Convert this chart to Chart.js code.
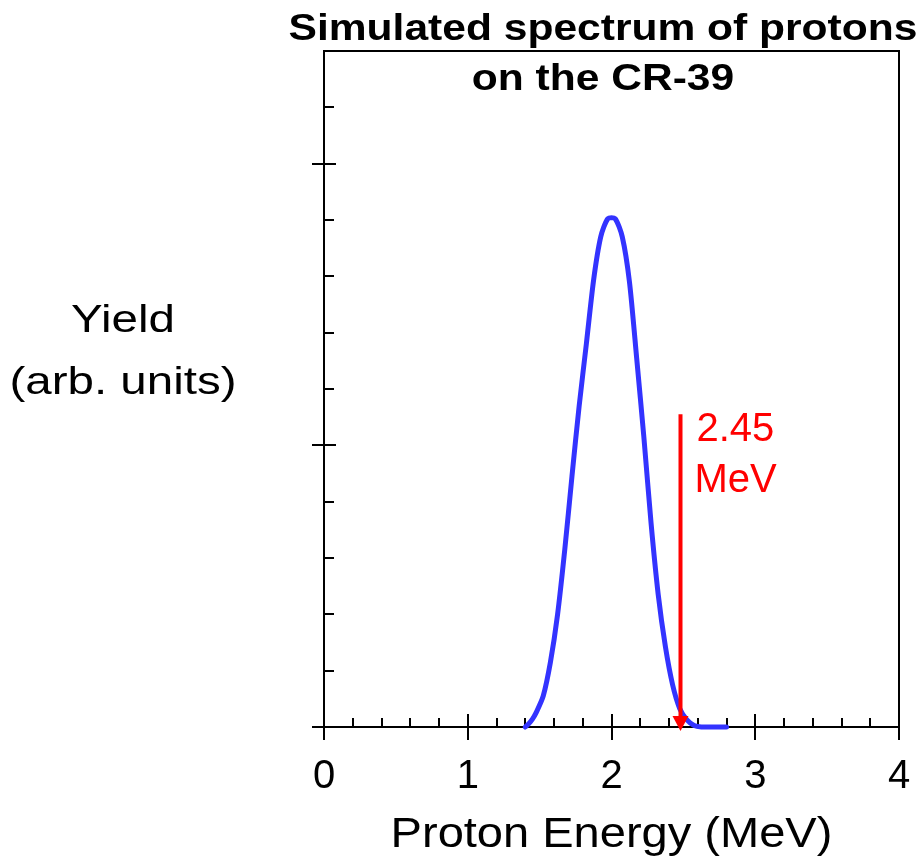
<!DOCTYPE html>
<html>
<head>
<meta charset="utf-8">
<script src="https://cdn.jsdelivr.net/npm/chart.js@4.4.1/dist/chart.umd.min.js"></script>
<style>
  html, body { margin: 0; padding: 0; background: #fff; }
  #wrap { width: 922px; height: 864px; position: relative; }
</style>
</head>
<body>
<div id="wrap"><canvas id="spectrumChart"></canvas></div>
<script>
// proton energy (MeV) and simulated yield (arb. units)
const energies = [1.400, 1.425, 1.450, 1.475, 1.525, 1.575, 1.625, 1.675, 1.725, 1.775, 1.825,
                  1.875, 1.925, 1.975, 2.025, 2.075, 2.125, 2.175, 2.225, 2.275, 2.325,
                  2.375, 2.425, 2.475, 2.525, 2.575, 2.625, 2.700, 2.800];
const yields = [0.000, 0.012, 0.028, 0.050, 0.110, 0.230, 0.400, 0.630, 0.890, 1.140, 1.360,
                1.585, 1.740, 1.805, 1.805, 1.740, 1.580, 1.310, 1.030, 0.725, 0.470,
                0.285, 0.150, 0.065, 0.025, 0.005, 0.000, 0.000, 0.000];

const xTickLabels = ['0', '1', '2', '3', '4'];
const xMajorTicks = [0, 1, 2, 3, 4];
const xMinorTicks = [0.2, 0.4, 0.6, 0.8, 1.2, 1.4, 1.6, 1.8, 2.2, 2.4, 2.6, 2.8, 3.2, 3.4, 3.6, 3.8];
const yMajorTicks = [0, 1, 2];
const yMinorTicks = [0.2, 0.4, 0.6, 0.8, 1.2, 1.4, 1.6, 1.8, 2.2];

// red marker at the 2.45 MeV cut
const markerEnergy = 2.48;
const markerTop = 1.11;
const markerLabel = ['2.45', 'MeV'];

const titleLines = ['Simulated spectrum of protons', 'on the CR-39'];
const yTitleLines = ['Yield', '(arb. units)'];
const xTitle = 'Proton Energy (MeV)';

const FONT = '"Liberation Sans", Arial, Helvetica, sans-serif';
Chart.defaults.font.family = FONT;

// text in the original is a bit wider than the font, so stretch it horizontally
function stretchedText(ctx, text, cx, baseline, font, sx, color) {
    ctx.save();
    ctx.font = font;
    ctx.fillStyle = color;
    ctx.textAlign = 'center';
    ctx.textBaseline = 'alphabetic';
    ctx.translate(cx, baseline);
    ctx.scale(sx, 1);
    ctx.fillText(text, 0, 0);
    ctx.restore();
}

const framePlugin = {
    id: 'frame',
    beforeDatasetsDraw(chart) {
        const ctx = chart.ctx;
        const { left, right, top, bottom } = chart.chartArea;
        const xs = chart.scales.x, ys = chart.scales.y;
        ctx.save();
        ctx.strokeStyle = '#000';
        ctx.lineWidth = 2;
        ctx.strokeRect(left, top, right - left, bottom - top);
        ctx.beginPath();
        xMajorTicks.forEach(v => {
            const px = Math.round(xs.getPixelForValue(v));
            ctx.moveTo(px, bottom - 13); ctx.lineTo(px, bottom + 13);
        });
        xMinorTicks.forEach(v => {
            const px = Math.round(xs.getPixelForValue(v));
            ctx.moveTo(px, bottom - 9); ctx.lineTo(px, bottom);
        });
        yMajorTicks.forEach(v => {
            const py = Math.round(ys.getPixelForValue(v));
            ctx.moveTo(left - 12, py); ctx.lineTo(left + 12, py);
        });
        yMinorTicks.forEach(v => {
            const py = Math.round(ys.getPixelForValue(v));
            ctx.moveTo(left, py); ctx.lineTo(left + 10, py);
        });
        ctx.stroke();
        ctx.restore();
    },
    afterDatasetsDraw(chart) {
        const ctx = chart.ctx;
        const { left, right, bottom } = chart.chartArea;
        const xs = chart.scales.x, ys = chart.scales.y;

        // arrow
        const ax = xs.getPixelForValue(markerEnergy);
        const ay = ys.getPixelForValue(markerTop);
        ctx.save();
        ctx.strokeStyle = '#ff0000';
        ctx.fillStyle = '#ff0000';
        ctx.lineWidth = 4;
        ctx.beginPath();
        ctx.moveTo(ax, ay);
        ctx.lineTo(ax, bottom - 8);
        ctx.stroke();
        ctx.beginPath();
        ctx.moveTo(ax - 8, bottom - 11);
        ctx.lineTo(ax + 8, bottom - 11);
        ctx.lineTo(ax, bottom + 4);
        ctx.closePath();
        ctx.fill();
        ctx.font = '40px ' + FONT;
        ctx.textAlign = 'left';
        ctx.textBaseline = 'alphabetic';
        ctx.fillText(markerLabel[0], ax + 16, ay + 27);
        ctx.fillText(markerLabel[1], ax + 14, ay + 78);
        ctx.restore();

        // titles
        stretchedText(ctx, titleLines[0], 603, 39.5, 'bold 37px ' + FONT, 1.15, '#000');
        stretchedText(ctx, titleLines[1], 603, 90, 'bold 37px ' + FONT, 1.15, '#000');
        stretchedText(ctx, yTitleLines[0], 123, 332, '38px ' + FONT, 1.25, '#000');
        stretchedText(ctx, yTitleLines[1], 123, 394, '38px ' + FONT, 1.25, '#000');
        stretchedText(ctx, xTitle, (left + right) / 2, 847, '42px ' + FONT, 1.12, '#000');
    }
};

new Chart(document.getElementById('spectrumChart'), {
    type: 'line',
    data: {
        datasets: [{
            data: energies.map((e, i) => ({ x: e, y: yields[i] })),
            borderColor: '#3333ff',
            borderWidth: 5,
            borderCapStyle: 'round',
            borderJoinStyle: 'round',
            pointRadius: 0,
            tension: 0.25,
            fill: false,
            clip: false
        }]
    },
    options: {
        responsive: true,
        maintainAspectRatio: false,
        animation: false,
        layout: {
            padding: { left: 324, right: 23, top: 51, bottom: 37 }
        },
        plugins: {
            legend: { display: false },
            title: { display: false },
            tooltip: { enabled: false }
        },
        scales: {
            x: {
                type: 'linear',
                min: 0,
                max: 4,
                grid: { display: false, drawTicks: false },
                border: { display: false },
                ticks: {
                    stepSize: 1,
                    padding: 26,
                    color: '#000',
                    font: { size: 40 },
                    callback: (v, i) => xTickLabels[i]
                },
                // edge labels have room in the layout padding already
                afterFit(scale) {
                    scale.paddingLeft = 0;
                    scale.paddingRight = 0;
                }
            },
            y: {
                display: false,
                min: 0,
                max: 2.4
            }
        }
    },
    plugins: [framePlugin]
});
</script>
</body>
</html>
